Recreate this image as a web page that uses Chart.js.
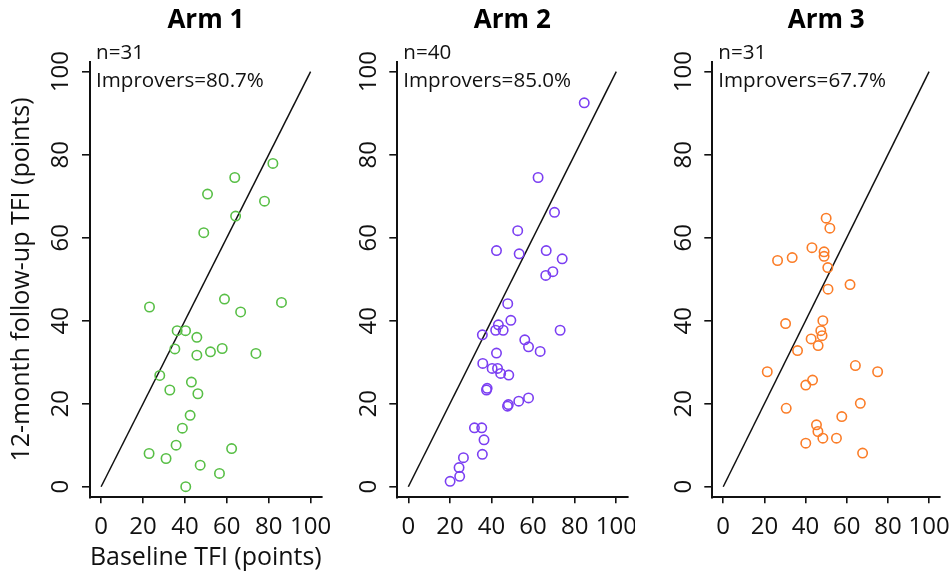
<!DOCTYPE html>
<html>
<head>
<meta charset="utf-8">
<script src="https://cdn.jsdelivr.net/npm/chart.js@4.4.0/dist/chart.umd.min.js"></script>
<style>
    body { margin: 0; background: #fff; }
    #wrap { position: relative; width: 952px; height: 580px; }
    canvas { position: absolute; top: 0; }
</style>
</head>
<body>
<div id="wrap">
    <canvas id="arm1" width="330" height="580" style="left:0px"></canvas>
    <canvas id="arm2" width="305" height="580" style="left:330px"></canvas>
    <canvas id="arm3" width="317" height="580" style="left:635px"></canvas>
</div>
<script>
var armNames = ['Arm 1', 'Arm 2', 'Arm 3'];
var nCounts = [31, 40, 31];
var improvers = ['80.7%', '85.0%', '67.7%'];
var tickValues = [0, 20, 40, 60, 80, 100];
var identityLine = [0, 100];

var arm1Baseline = [82.0, 63.8, 50.8, 78.0, 64.2, 49.0, 58.9, 86.1, 23.1, 66.6, 36.3, 40.3, 45.7, 35.2, 57.8, 52.2,
    45.7, 73.9, 28.0, 43.1, 32.8, 46.2, 42.5, 38.8, 35.8, 62.3, 22.9, 31.0, 47.3, 56.5, 40.4];
var arm1FollowUp = [77.9, 74.5, 70.5, 68.8, 65.2, 61.2, 45.2, 44.4, 43.3, 42.1, 37.6, 37.6, 36.0, 33.2, 33.3, 32.5,
    31.7, 32.1, 26.8, 25.2, 23.3, 22.4, 17.2, 14.1, 10.0, 9.2, 8.0, 6.8, 5.2, 3.2, 0.0];

var arm2Baseline = [84.6, 62.4, 70.3, 52.6, 42.4, 53.3, 66.3, 74.0, 69.5, 66.1, 47.8, 49.3, 43.3, 42.0, 45.6, 35.6,
    73.0, 56.0, 57.8, 63.4, 42.4, 35.8, 40.3, 42.9, 44.4, 48.3, 37.9, 37.6, 57.8, 53.1, 48.1, 47.7, 31.8, 35.3,
    36.4, 35.6, 26.5, 24.4, 24.7, 20.1];
var arm2FollowUp = [92.5, 74.5, 66.1, 61.7, 56.9, 56.1, 56.9, 54.9, 51.8, 50.9, 44.1, 40.1, 39.0, 37.7, 37.7, 36.6,
    37.7, 35.4, 33.7, 32.6, 32.2, 29.7, 28.5, 28.5, 27.3, 26.9, 23.7, 23.3, 21.4, 20.6, 19.8, 19.4, 14.2, 14.2,
    11.3, 7.8, 7.0, 4.6, 2.5, 1.3];

var arm3Baseline = [50.0, 51.8, 43.1, 49.0, 49.0, 26.4, 33.5, 50.8, 61.6, 50.9, 48.4, 30.3, 47.4, 48.0, 42.7, 46.1,
    36.1, 21.4, 64.2, 75.0, 43.4, 40.1, 66.6, 30.6, 57.6, 45.3, 46.0, 48.4, 55.0, 40.1, 67.7];
var arm3FollowUp = [64.7, 62.3, 57.6, 56.6, 55.5, 54.5, 55.2, 52.8, 48.7, 47.6, 40.0, 39.3, 37.6, 36.4, 35.6, 34.0,
    32.8, 27.7, 29.2, 27.7, 25.7, 24.5, 20.1, 18.9, 16.9, 14.9, 13.3, 11.7, 11.7, 10.5, 8.1];

var FONT = '"Open Sans", sans-serif';
var INK = '#111';

function punti(bx, fu) {
    var out = [];
    for (var i = 0; i < bx.length; i++) {
        out.push({ x: bx[i], y: fu[i] });
    }
    return out;
}

// n= / Improvers= text in the top left corner of each panel
var notePlugin = {
    id: 'note',
    afterDraw: function (chart, args, opts) {
        var ctx = chart.ctx;
        var a = chart.chartArea;
        ctx.save();
        ctx.font = '20.6px ' + FONT;
        ctx.fillStyle = INK;
        ctx.textAlign = 'left';
        ctx.textBaseline = 'alphabetic';
        ctx.fillText('n=' + opts.n, a.left + 6, a.top - 3);
        ctx.fillText('Improvers=' + opts.imp, a.left + 6, a.top + 25);
        ctx.restore();
    }
};

function setTicks(scale) {
    scale.ticks = tickValues.map(function (v) { return { value: v }; });
}

function grafico(id, idx, bx, fu, colore, yWidth, rightPad) {
    var primo = idx === 0;
    new Chart(document.getElementById(id), {
        type: 'scatter',
        data: {
            datasets: [{
                data: punti(bx, fu),
                borderColor: colore,
                backgroundColor: 'rgba(0,0,0,0)',
                pointRadius: 4.7,
                pointBorderWidth: 1.6,
                pointHoverRadius: 4.7
            }, {
                data: [{ x: identityLine[0], y: identityLine[0] }, { x: identityLine[1], y: identityLine[1] }],
                showLine: true,
                borderColor: INK,
                borderWidth: 1.5,
                pointRadius: 0
            }]
        },
        options: {
            responsive: false,
            animation: false,
            events: [],
            layout: { padding: { left: 0, right: rightPad, top: 0, bottom: 0 } },
            plugins: {
                legend: { display: false },
                tooltip: { enabled: false },
                title: {
                    display: true,
                    text: armNames[idx],
                    fullSize: false,
                    color: '#000',
                    font: { family: FONT, size: 26, weight: 'bold' },
                    padding: { top: 5, bottom: 25.5 }
                },
                note: { n: nCounts[idx], imp: improvers[idx] }
            },
            scales: {
                x: {
                    type: 'linear',
                    min: -5.3,
                    max: 105.3,
                    afterBuildTicks: setTicks,
                    afterFit: function (s) { s.height = 82.7; s.paddingLeft = 0; s.paddingRight = 0; },
                    grid: { display: true, drawOnChartArea: false, drawTicks: true, tickLength: 6, color: INK, lineWidth: 1.6 },
                    border: { display: true, color: INK, width: 2 },
                    ticks: { autoSkip: false, maxRotation: 0, minRotation: 0, padding: 9, color: INK, font: { family: FONT, size: 24 } },
                    title: { display: primo, text: 'Baseline TFI (points)', color: INK, font: { family: FONT, size: 25 }, padding: { top: 0, bottom: 7 } }
                },
                y: {
                    type: 'linear',
                    min: -2.55,
                    max: 102.4,
                    afterBuildTicks: setTicks,
                    afterFit: function (s) { s.width = yWidth; s.paddingTop = 0; s.paddingBottom = 0; },
                    grid: { display: true, drawOnChartArea: false, drawTicks: true, tickLength: 8, color: INK, lineWidth: 1.6 },
                    border: { display: true, color: INK, width: 2 },
                    ticks: { autoSkip: false, minRotation: 90, maxRotation: 90, crossAlign: 'center', padding: 0, color: INK, font: { family: FONT, size: 24 } },
                    title: { display: primo, text: '12-month follow-up TFI (points)', color: INK, font: { family: FONT, size: 25 }, padding: { top: 7, bottom: 0 } }
                }
            }
        },
        plugins: [notePlugin]
    });
}

grafico('arm1', 0, arm1Baseline, arm1FollowUp, '#58bf46', 90, 8.3);
grafico('arm2', 1, arm2Baseline, arm2FollowUp, '#7b3ff2', 67.3, 7.7);
grafico('arm3', 2, arm3Baseline, arm3FollowUp, '#fb7d28', 77.3, 12);
</script>
</body>
</html>
